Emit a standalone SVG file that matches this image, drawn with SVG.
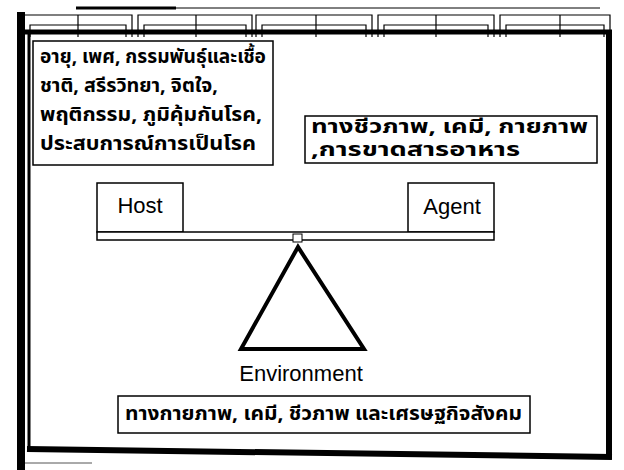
<svg xmlns="http://www.w3.org/2000/svg" width="624" height="470" viewBox="0 0 624 470">
<style>
.box{fill:#fff;stroke:#000;stroke-width:1.5}
.th{font-family:"Noto Sans Thai","Noto Sans","Liberation Sans",sans-serif;font-weight:bold;font-size:19px;fill:#000}
.lbl{font-family:"Liberation Sans",Arial,sans-serif;font-size:22px;fill:#000}
.tab{fill:none;stroke:#000;stroke-width:1.2}
</style>
<rect width="624" height="470" fill="#fff"/>
<g id="tabs">
<line x1="76" y1="8" x2="176" y2="8" stroke="#000" stroke-width="3"/>
<line x1="176" y1="8" x2="600" y2="8" stroke="#000" stroke-width="1"/>
<path class="tab" d="M24 37V15H132V37M78 15V37M30 37V25H126V37"/>
<path class="tab" d="M138 37V15H252V37M196 15V37M144 37V25H246V37"/>
<path class="tab" d="M256 37V15H372V37M316 15V37M262 37V25H366V37"/>
<path class="tab" d="M378 37V15H494V37M436 15V37M384 37V25H488V37"/>
<path class="tab" d="M500 37V15H610V37M560 15V37M506 37V25H604V37"/>
</g>
<g id="frame">
<rect x="17" y="12" width="8" height="458" fill="#000"/>
<line x1="25" y1="32" x2="612" y2="32" stroke="#000" stroke-width="5"/>
<line x1="29" y1="32" x2="29" y2="450" stroke="#000" stroke-width="3"/>
<line x1="609" y1="30" x2="609" y2="459" stroke="#000" stroke-width="6"/>
<line x1="27" y1="449" x2="612" y2="457" stroke="#000" stroke-width="6"/>
<line x1="25" y1="463" x2="92" y2="463" stroke="#555" stroke-width="1"/>
</g>
<g id="host-factors">
<rect class="box" x="33" y="41" width="240" height="124"/>
<text class="th" x="40" y="63" textLength="226" lengthAdjust="spacingAndGlyphs">อายุ, เพศ, กรรมพันธุ์และเชื้อ</text>
<text class="th" x="40" y="92" textLength="178" lengthAdjust="spacingAndGlyphs">ชาติ, สรีรวิทยา, จิตใจ,</text>
<text class="th" x="40" y="121" textLength="222" lengthAdjust="spacingAndGlyphs">พฤติกรรม, ภูมิคุ้มกันโรค,</text>
<text class="th" x="40" y="150" textLength="216" lengthAdjust="spacingAndGlyphs">ประสบการณ์การเป็นโรค</text>
</g>
<g id="agent-factors">
<rect class="box" x="305" y="116" width="292" height="47"/>
<text class="th" x="311" y="133" font-size="18" textLength="277" lengthAdjust="spacingAndGlyphs">ทางชีวภาพ, เคมี, กายภาพ</text>
<text class="th" x="311" y="156" font-size="18" textLength="209" lengthAdjust="spacingAndGlyphs">,การขาดสารอาหาร</text>
</g>
<g id="host">
<rect class="box" x="97" y="183" width="86" height="49"/>
<text class="lbl" x="140" y="213" text-anchor="middle">Host</text>
</g>
<g id="agent">
<rect class="box" x="408" y="183" width="86" height="49"/>
<text class="lbl" x="452" y="214" text-anchor="middle">Agent</text>
</g>
<g id="beam">
<rect x="97" y="232" width="397" height="8" fill="#fff" stroke="#000" stroke-width="1.5"/>
</g>
<g id="connectors">
<rect x="293" y="234" width="9" height="8" fill="#fff" stroke="#000" stroke-width="1"/>
</g>
<g id="environment">
<polygon points="298,247 241,349 364,349" fill="#fff" stroke="#000" stroke-width="4" stroke-linejoin="miter"/>
<text class="lbl" x="301" y="381" text-anchor="middle" font-size="24">Environment</text>
</g>
<g id="environment-factors">
<rect class="box" x="118" y="396" width="412" height="37"/>
<text class="th" x="125" y="420" textLength="397" lengthAdjust="spacingAndGlyphs">ทางกายภาพ, เคมี, ชีวภาพ และเศรษฐกิจสังคม</text>
</g>
</svg>
